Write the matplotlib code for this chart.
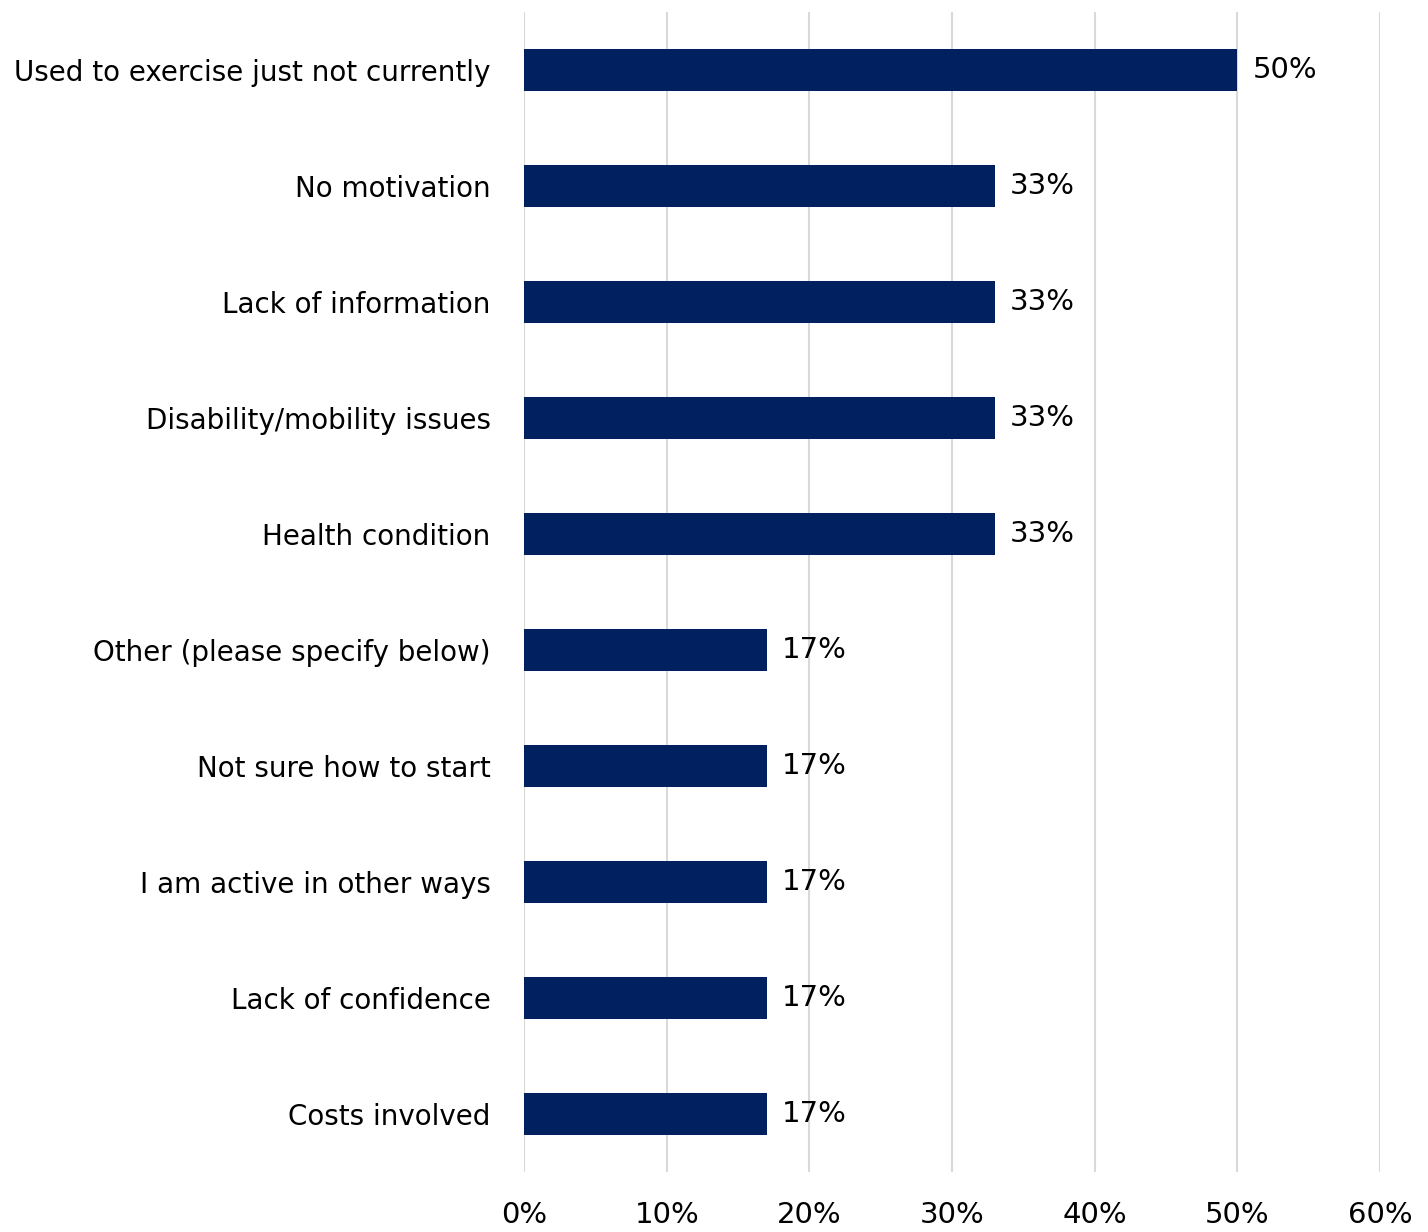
import matplotlib.pyplot as plt
from matplotlib.ticker import PercentFormatter

# Categories top to bottom, values in percent
categories = [
    'Used to exercise just not currently',
    'No motivation',
    'Lack of information',
    'Disability/mobility issues',
    'Health condition',
    'Other (please specify below)',
    'Not sure how to start',
    'I am active in other ways',
    'Lack of confidence',
    'Costs involved',
]
values = [50, 33, 33, 33, 33, 17, 17, 17, 17, 17]
x_ticks = [0, 10, 20, 30, 40, 50, 60]

plt.rcParams['font.family'] = ['DejaVu Sans']

fig = plt.figure(figsize=(14.28, 12.32), dpi=100)
ax = fig.add_axes([0.367, 0.0487, 0.5994, 0.9416])

ypos = list(range(len(categories)))
bars = ax.barh(ypos, values, height=0.36, color='#002060', zorder=3)
ax.bar_label(bars, labels=[f'{v}%' for v in values], padding=11, fontsize=21)

ax.set_yticks(ypos)
ax.set_yticklabels(categories, fontsize=20)
ax.set_ylim(len(categories) - 0.5, -0.5)

ax.set_xlim(0, 60)
ax.set_xticks(x_ticks)
ax.xaxis.set_major_formatter(PercentFormatter(decimals=0))
ax.tick_params(axis='x', labelsize=21, length=0, pad=21)
ax.tick_params(axis='y', length=0, pad=24)

ax.grid(axis='x', color='#d9d9d9', linewidth=1.5, zorder=0)
for s in ax.spines.values():
    s.set_visible(False)

fig.savefig('out.png', dpi=100)
